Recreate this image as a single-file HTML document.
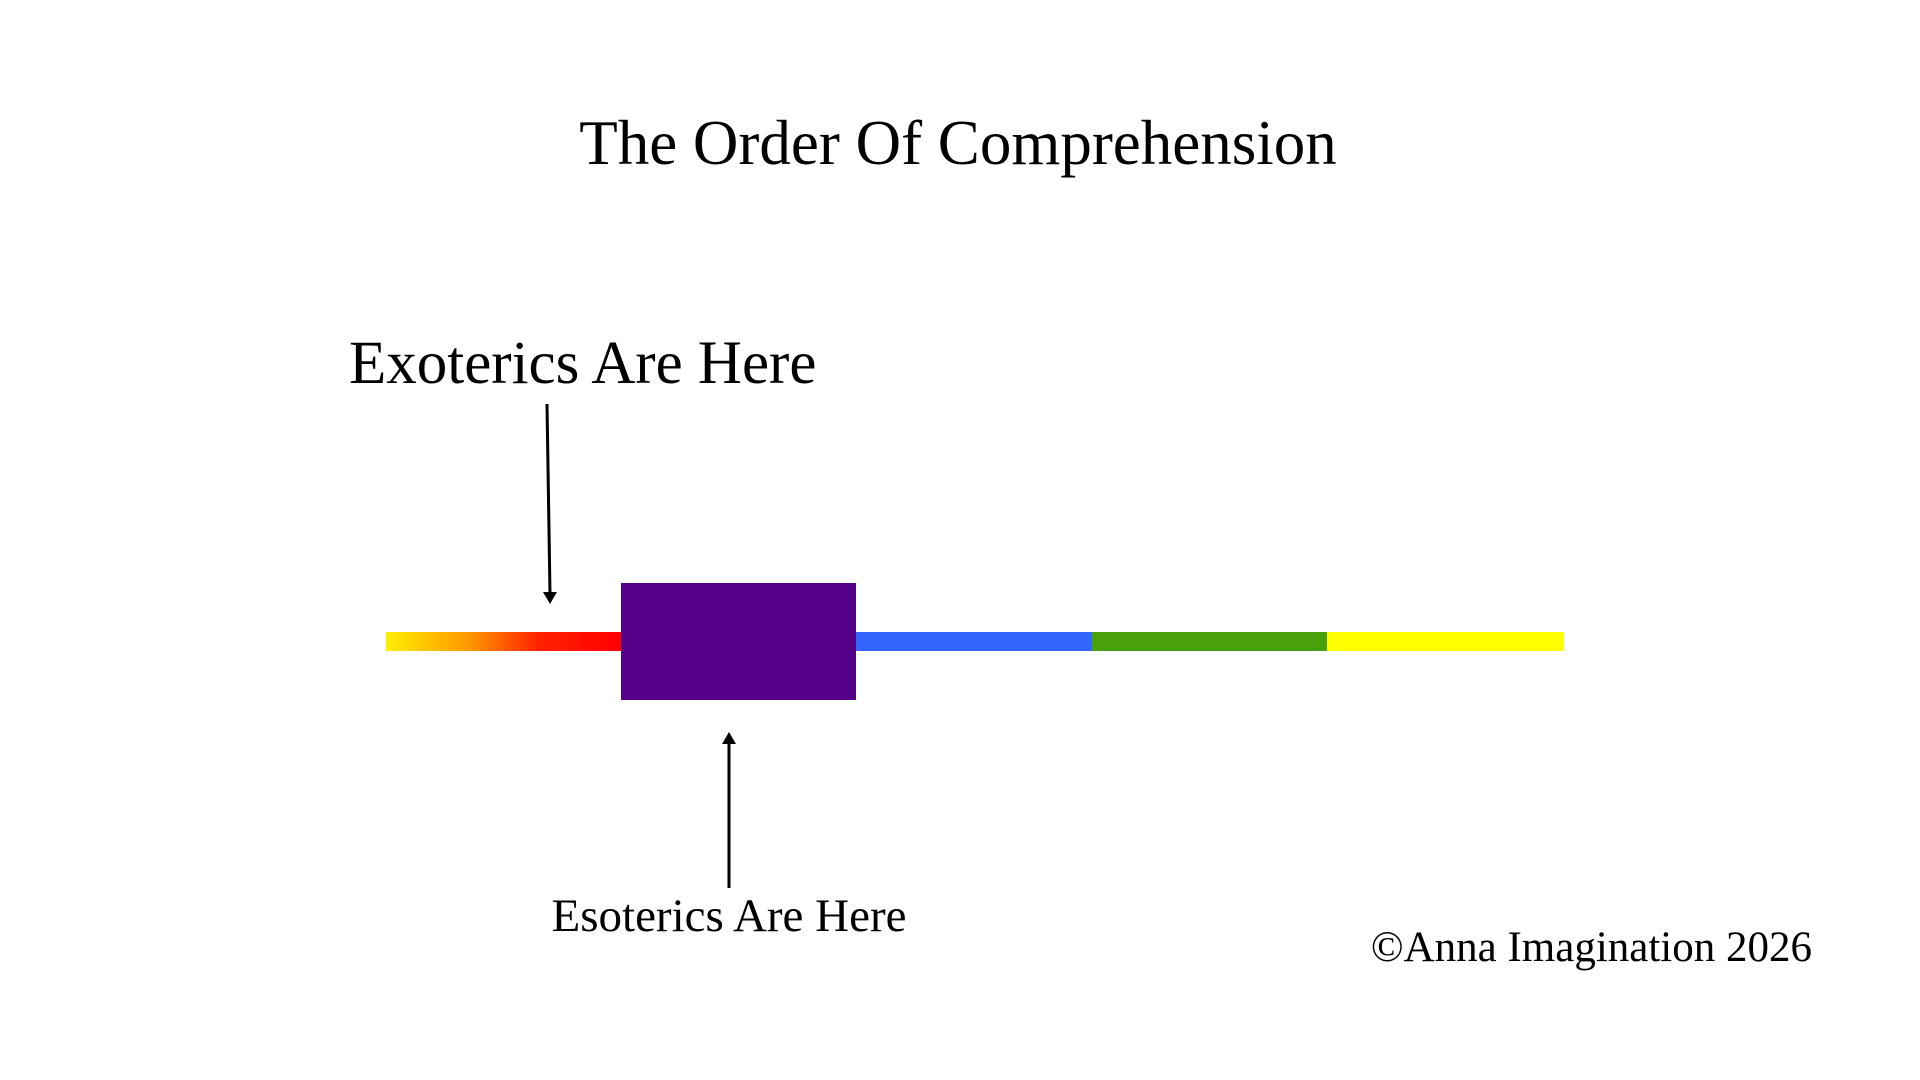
<!DOCTYPE html>
<html><head><meta charset="utf-8"><style>
html,body{margin:0;padding:0;background:#fff;width:1920px;height:1080px;overflow:hidden;position:relative;font-family:"Liberation Serif",serif;color:#000}
.t{position:absolute;white-space:nowrap;line-height:1}
</style></head><body>
<div class="t" style="left:0;width:1916px;text-align:center;top:112px;font-size:63px">The Order Of Comprehension</div>
<div class="t" style="left:349px;top:333px;font-size:61px">Exoterics Are Here</div>
<div class="t" style="left:0;width:1458px;text-align:center;top:893px;font-size:47px">Esoterics Are Here</div>
<div class="t" style="right:108px;top:926px;font-size:43px">©Anna Imagination 2026</div>
<div style="position:absolute;left:386px;top:632px;width:235px;height:19px;background:linear-gradient(90deg,#ffee00 0%,#ff9900 35%,#ff2200 65%,#ff0000 100%)"></div>
<div style="position:absolute;left:856px;top:632px;width:236px;height:19px;background:#3366ff"></div>
<div style="position:absolute;left:1092px;top:632px;width:235px;height:19px;background:#48a00a"></div>
<div style="position:absolute;left:1327px;top:632px;width:237px;height:19px;background:#ffff00"></div>
<div style="position:absolute;left:621px;top:583px;width:235px;height:117px;background:#55008a"></div>
<svg width="1920" height="1080" style="position:absolute;left:0;top:0">
<line x1="547" y1="404" x2="550" y2="594" stroke="#000" stroke-width="3"/>
<polygon points="543,592 557,592 550,604" fill="#000"/>
<line x1="729" y1="888" x2="729" y2="742" stroke="#000" stroke-width="3"/>
<polygon points="722,744 736,744 729,732" fill="#000"/>
</svg>
</body></html>
